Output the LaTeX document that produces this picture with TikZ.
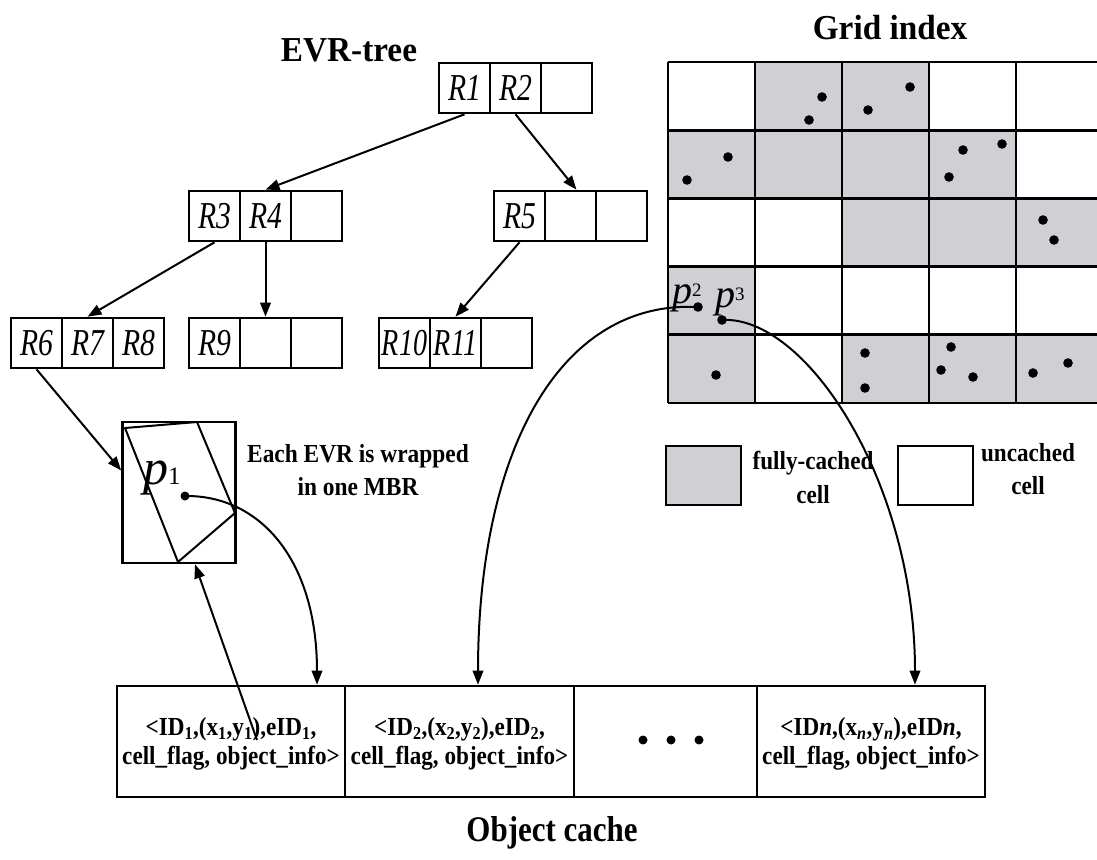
\documentclass[tikz,border=0pt]{standalone}
\usepackage{fontspec}
\setmainfont{Liberation Serif}
\usetikzlibrary{arrows.meta}
\definecolor{cellgray}{RGB}{208,208,212}
\newcommand{\sqz}[2]{\scalebox{#1}[1]{#2}}
\newcommand{\twolines}[3]{\scalebox{#1}[1]{\begin{tabular}{@{}c@{}}#2\\#3\end{tabular}}}
\begin{document}
\begin{tikzpicture}[x=1pt,y=-1pt,
  cellbox/.style={draw,line width=2.6pt,minimum width=51pt,minimum height=50pt,inner sep=0pt,font=\fontsize{38}{38}\selectfont\itshape},
  arr/.style={line width=2pt,-{Triangle[length=14pt,width=10.5pt]}},
  cachecell/.style={draw,line width=2.6pt,minimum height=111pt,inner sep=0pt},
  cachetext/.style={inner sep=0pt,font=\bfseries\fontsize{26}{29}\selectfont},
  bigtitle/.style={font=\bfseries\fontsize{35}{35}\selectfont},
  smalllabel/.style={inner sep=0pt,font=\bfseries\fontsize{26}{33}\selectfont},
  legendbox/.style={draw,line width=2.6pt,minimum width=75pt,minimum height=59pt,inner sep=0pt},
  gridline/.style={line width=2.8pt},
  dot/.style={fill=black}
]
\useasboundingbox (0,0) rectangle (1097,859);

% ---------- EVR-tree ----------
\node[bigtitle] (evrt) at (349,50) {\sqz{0.95}{EVR-tree}};

\node[cellbox] (r1) at (464.5,88) {\sqz{0.78}{R1}};
\node[cellbox] (r2) at (515.5,88) {\sqz{0.78}{R2}};
\node[cellbox] (r0) at (566.5,88) {};

\node[cellbox] (r3) at (214.5,216) {\sqz{0.78}{R3}};
\node[cellbox] (r4) at (265.5,216) {\sqz{0.78}{R4}};
\node[cellbox] (r4c) at (316.5,216) {};

\node[cellbox] (r5) at (519.5,216) {\sqz{0.78}{R5}};
\node[cellbox] (r5b) at (570.5,216) {};
\node[cellbox] (r5c) at (621.5,216) {};

\node[cellbox] (r6) at (36.5,343) {\sqz{0.78}{R6}};
\node[cellbox] (r7) at (87.5,343) {\sqz{0.78}{R7}};
\node[cellbox] (r8) at (138.5,343) {\sqz{0.78}{R8}};

\node[cellbox] (r9) at (214.5,343) {\sqz{0.78}{R9}};
\node[cellbox] (r9b) at (265.5,343) {};
\node[cellbox] (r9c) at (316.5,343) {};

\node[cellbox] (r10) at (404.5,343) {\sqz{0.74}{R10}};
\node[cellbox] (r11) at (455.5,343) {\sqz{0.74}{R11}};
\node[cellbox] (r11c) at (506.5,343) {};

\draw[arr] (r1.south) -- (r4.north);
\draw[arr] (r2.south) -- ([xshift=6pt]r5b.north);
\draw[arr] (r3.south) -- (r7.north);
\draw[arr] (r4.south) -- (r9b.north);
\draw[arr] (r5.south) -- (r11.north);

% ---------- MBR ----------
\node[draw,line width=2.6pt,minimum width=113pt,minimum height=141pt,inner sep=0pt] (mbr) at (179,492.5) {};
\draw[line width=2pt,line join=round] (125,428) -- (197,422) -- (235,513) -- (178,562) -- cycle;
\node[anchor=base west,inner sep=0pt] (p1lab) at (143,484) {{\fontsize{50}{50}\selectfont\itshape p}{\fontsize{25}{25}\selectfont 1}};
\coordinate (p1) at (185,496);
\fill[dot] (p1) circle (4.5pt);
\draw[arr] (r6.south) -- ([yshift=22pt]mbr.west);
\node[smalllabel] (evrnote) at (358,472) {\twolines{0.9}{Each EVR is wrapped}{in one MBR}};

% ---------- Grid index ----------
\node[bigtitle] (gridt) at (890,28) {\sqz{0.95}{Grid index}};
\foreach \c/\r in {2/1,3/1,1/2,2/2,3/2,4/2,3/3,4/3,5/3,1/4,1/5,3/5,4/5,5/5}{
  \fill[cellgray] ({668+87*(\c-1)},{62+68.2*(\r-1)}) rectangle ++(87,68.2);
}
\foreach \k in {0,...,5}{
  \draw[gridline] ({668+87*\k},62) -- ({668+87*\k},403);
  \draw[gridline] (668,{62+68.2*\k}) -- (1102,{62+68.2*\k});
}
\foreach \px/\py in {822/97,809/120,868/110,910/87,
  728/157,687/180,963/150,1002/144,949/177,
  1043/220,1054/240,
  716/375,865/353,865/388,951/347,941/370,973/377,1033/373,1068/363}{
  \fill[dot] (\px,\py) circle (4.8pt);
}
\coordinate (p2) at (698,307);
\coordinate (p3) at (722,320);
\fill[dot] (p2) circle (4.8pt);
\fill[dot] (p3) circle (4.8pt);
\node[anchor=base west,inner sep=0pt] (p2lab) at (672,303) {{\fontsize{40}{40}\selectfont\itshape p}\raisebox{7pt}{\fontsize{19}{19}\selectfont 2}};
\node[anchor=base west,inner sep=0pt] (p3lab) at (715,307) {{\fontsize{40}{40}\selectfont\itshape p}\raisebox{7pt}{\fontsize{19}{19}\selectfont 3}};

% legend
\node[legendbox,fill=cellgray] (lg1) at (703.5,475.5) {};
\node[smalllabel,font=\bfseries\fontsize{26}{34}\selectfont] (lg1t) at (813,480) {\twolines{0.89}{fully-cached}{cell}};
\node[legendbox,fill=white] (lg2) at (935.5,475.5) {};
\node[smalllabel] (lg2t) at (1028,471.5) {\twolines{0.89}{uncached}{cell}};

% ---------- Object cache ----------
\node[cachecell,minimum width=228pt] (c1) at (231,741.5) {};
\node[cachecell,minimum width=229pt] (c2) at (459.5,741.5) {};
\node[cachecell,minimum width=183pt] (c3) at (665.5,741.5) {};
\node[cachecell,minimum width=228pt] (c4) at (871,741.5) {};
\node[cachetext] (t1) at (231,744) {\twolines{0.89}{\textless ID\textsubscript{1},(x\textsubscript{1},y\textsubscript{1}),eID\textsubscript{1},}{cell\_flag, object\_info\textgreater}};
\node[cachetext] (t2) at (459.5,744) {\twolines{0.89}{\textless ID\textsubscript{2},(x\textsubscript{2},y\textsubscript{2}),eID\textsubscript{2},}{cell\_flag, object\_info\textgreater}};
\node[cachetext] (t4) at (871,744) {\twolines{0.89}{\textless ID\textit{n},(x\textsubscript{\textit{n}},y\textsubscript{\textit{n}}),eID\textit{n},}{cell\_flag, object\_info\textgreater}};
\foreach \dx in {643,671,699}{ \fill[dot] (\dx,740) circle (4.5pt); }
\node[font=\bfseries\fontsize{36}{36}\selectfont] (cachet) at (552,833) {\sqz{0.86}{Object cache}};

% ---------- connectors ----------
\draw[arr] (p1) .. controls (260,495) and (317,560) .. ([xshift=86pt]c1.north);
\draw[arr] (p2) .. controls (560,300) and (478,450) .. ([xshift=18.5pt]c2.north);
\draw[arr] (p3) .. controls (805,315) and (915,480) .. ([xshift=44pt]c4.north);
\coordinate (ret) at (257,740);
\draw[arr] (ret) -- ([xshift=16pt]mbr.south);
\end{tikzpicture}
\end{document}
